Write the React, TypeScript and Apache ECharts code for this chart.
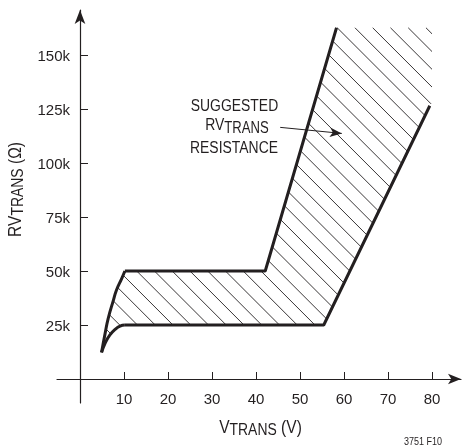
import React, { useEffect, useRef } from "react";
import * as echarts from "echarts";

// ---- data (x in volts, y in kΩ) ----
const xTickValues = [10, 20, 30, 40, 50, 60, 70, 80];
const yTickValues = [25, 50, 75, 100, 125, 150];
const upperCurve = [[4.9, 12.3], [5.7, 21], [6.4, 28], [7.6, 36.5], [8.3, 41.2], [9.5, 46.6], [10.2, 50]];
const upperStraight = [[10.2, 50], [42.1, 50], [58.3, 162.6]];
const lowerCurve = [[4.9, 12.3], [5.7, 16.5], [6.8, 20.4], [8, 23], [9.1, 24.5], [10.2, 25]];
const lowerStraight = [[10.2, 25], [55.4, 25], [79.5, 126.5]];
const hatchRightEdge = [[80, 162.6], [80, 128]];
const calloutArrow = [[45.5, 116.5], [59.5, 113.7]];
const calloutLines = ["{m|SUGGESTED}", "{m|RV}{t|TRANS}", "{m|RESISTANCE}"];

// ---- styles ----
const INK = "#231f20";
const FONT = "'Liberation Sans', Arial, sans-serif";
const NARROW = 0.82;
const HATCH_GAP = 17.75;
const HATCH_PHASE = 12.8;

export default function App() {
  const ref = useRef<HTMLDivElement>(null);
  useEffect(() => {
    if (!ref.current) return;
    const chart = echarts.init(ref.current, null, { renderer: "svg" });

    const hatchPolygon = [
      ...upperCurve,
      ...upperStraight.slice(1),
      ...hatchRightEdge,
      ...lowerStraight.slice().reverse(),
      ...lowerCurve.slice().reverse().slice(1),
    ];

    const renderHatch = (params: any, api: any) => {
      const poly = hatchPolygon.map((p) => api.coord(p));
      const o = api.coord([0, 0]);
      const base = o[1] - o[0] + HATCH_PHASE;
      const ds = poly.map((p: number[]) => p[1] - p[0]);
      const dmin = Math.min(...ds);
      const dmax = Math.max(...ds);
      const children: any[] = [];
      for (let k = Math.ceil((dmin - base) / HATCH_GAP); base + k * HATCH_GAP <= dmax; k++) {
        const c = base + k * HATCH_GAP;
        const xs: number[] = [];
        for (let i = 0; i < poly.length; i++) {
          const a = poly[i];
          const b = poly[(i + 1) % poly.length];
          const fa = a[1] - a[0] - c;
          const fb = b[1] - b[0] - c;
          if (fa > 0 !== fb > 0) {
            const t = fa / (fa - fb);
            xs.push(a[0] + (b[0] - a[0]) * t);
          }
        }
        xs.sort((m, n) => m - n);
        for (let j = 0; j + 1 < xs.length; j += 2) {
          children.push({
            type: "line",
            shape: { x1: xs[j], y1: xs[j] + c, x2: xs[j + 1], y2: xs[j + 1] + c },
            style: { stroke: INK, lineWidth: 0.9 },
          });
        }
      }
      return { type: "group", children };
    };

    const thick = { color: INK, width: 3 };
    const lineSeries = (data: number[][], smooth: boolean) => ({
      type: "line",
      data,
      smooth,
      showSymbol: false,
      symbol: "none",
      lineStyle: thick,
      z: 5,
      silent: true,
    });

    const labelFont = { fontFamily: FONT, fontSize: 15, color: INK };
    const richMain = (size: number, extra: any = {}) => ({
      fontFamily: FONT,
      fontSize: size,
      lineHeight: size + 3,
      fill: INK,
      color: INK,
      ...extra,
    });
    const richSub = (size: number, extra: any = {}) => ({
      fontFamily: FONT,
      fontSize: size,
      lineHeight: size,
      verticalAlign: "bottom",
      fill: INK,
      color: INK,
      ...extra,
    });

    chart.setOption({
      animation: false,
      grid: { left: 57, right: 1, top: 10, bottom: 43 },
      xAxis: {
        type: "value",
        min: -23 / 4.4,
        max: 381 / 4.4,
        axisLine: {
          onZero: true,
          symbol: ["none", "arrow"],
          symbolSize: [8, 13],
          lineStyle: { color: INK, width: 1.2 },
        },
        axisTick: { inside: true, length: 7, customValues: xTickValues, lineStyle: { color: INK, width: 1 } },
        axisLabel: { customValues: xTickValues, margin: -12, ...labelFont },
        splitLine: { show: false },
      },
      yAxis: {
        type: "value",
        min: (-24 * 25) / 54,
        max: (369 * 25) / 54,
        axisLine: {
          onZero: true,
          symbol: ["none", "arrow"],
          symbolSize: [8, 14],
          lineStyle: { color: INK, width: 1.2 },
        },
        axisTick: { inside: true, length: 8, customValues: yTickValues, lineStyle: { color: INK, width: 1 } },
        axisLabel: { customValues: yTickValues, margin: -13, formatter: "{value}k", ...labelFont },
        splitLine: { show: false },
      },
      series: [
        {
          type: "custom",
          renderItem: renderHatch,
          data: [[0, 0]],
          encode: { x: 0, y: 1 },
          z: 2,
          silent: true,
        },
        lineSeries(upperCurve, true),
        lineSeries(upperStraight, false),
        lineSeries(lowerCurve, true),
        {
          ...lineSeries(lowerStraight, false),
          markLine: {
            silent: true,
            symbol: ["none", "arrow"],
            symbolSize: [7, 12],
            label: { show: false },
            lineStyle: { color: INK, width: 1, type: "solid" },
            data: [[{ coord: calloutArrow[0] }, { coord: calloutArrow[1] }]],
          },
        },
      ],
      graphic: [
        {
          type: "text",
          x: 260.5,
          y: 426.5,
          scaleX: NARROW,
          style: {
            text: "{m|V}{s|TRANS}{m| (V)}",
            textAlign: "center",
            textVerticalAlign: "middle",
            rich: { m: richMain(19), s: richSub(17) },
          },
        },
        {
          type: "text",
          x: 14,
          y: 189.5,
          rotation: Math.PI / 2,
          scaleX: NARROW,
          style: {
            text: "{m|RV}{s|TRANS}{m| (Ω)}",
            textAlign: "center",
            textVerticalAlign: "middle",
            rich: { m: richMain(19), s: richSub(17) },
          },
        },
        ...calloutLines.map((t, i) => ({
          type: "text",
          x: [234.5, 237, 234][i],
          y: [106, 125.5, 148.5][i],
          scaleX: NARROW,
          style: {
            text: t,
            textAlign: "center",
            textVerticalAlign: "middle",
            rich: {
              m: richMain(17, { lineHeight: 20, verticalAlign: "top" }),
              t: richSub(16, { padding: [10, 0, 0, 0] }),
            },
          },
        })),
        {
          type: "text",
          x: 442,
          y: 441,
          scaleX: NARROW,
          style: {
            text: "3751 F10",
            textAlign: "right",
            textVerticalAlign: "middle",
            fontFamily: FONT,
            fontSize: 11,
            fill: INK,
          },
        },
      ],
    });
    return () => chart.dispose();
  }, []);
  return <div ref={ref} style={{ position: "fixed", left: 0, top: 0, width: 462, height: 446 }} />;
}
